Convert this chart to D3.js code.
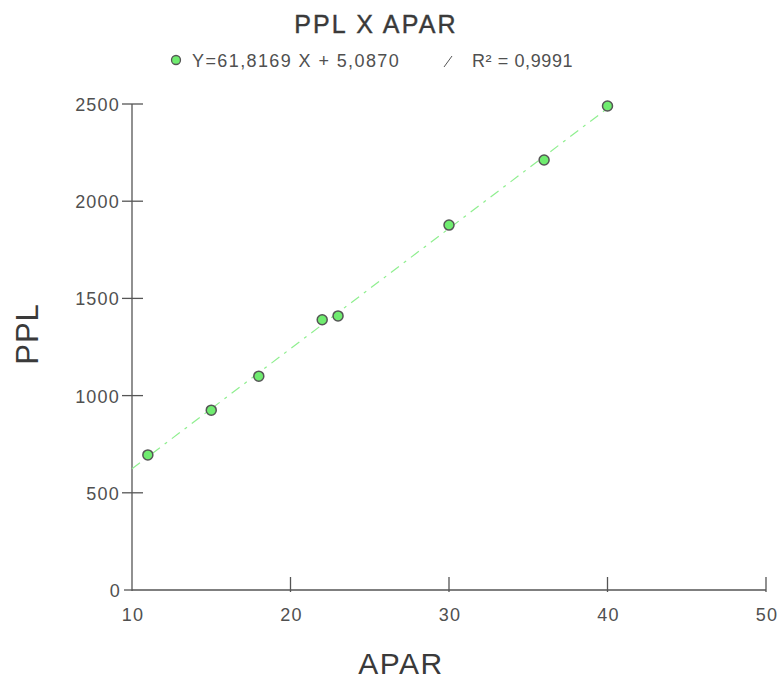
<!DOCTYPE html>
<html><head><meta charset="utf-8">
<script src="https://cdn.jsdelivr.net/npm/d3@7"></script>
<style>body{margin:0;background:#fff;} svg{display:block;font-family:"Liberation Sans",Arial,sans-serif;}</style>
</head><body>
<svg id="c" width="780" height="681"></svg>
<script>
const apar = [11, 15, 18, 22, 23, 30, 36, 40];
const ppl = [695, 925, 1100, 1390, 1410, 1877, 2212, 2490];
const slope = 61.8169, intercept = 5.0870;
const xTicks = [10, 20, 30, 40, 50];
const yTicks = [0, 500, 1000, 1500, 2000, 2500];
const title = "PPL X APAR";
const legendEq = "Y=61,8169 X + 5,0870";
const legendR2 = "R² = 0,9991";

const svg = d3.select("#c");
const x = d3.scaleLinear().domain([10, 50]).range([132, 766]);
const y = d3.scaleLinear().domain([0, 2500]).range([590, 104]);

// title
svg.append("text").attr("x", 376).attr("y", 33).attr("text-anchor", "middle")
  .attr("font-size", 25).attr("letter-spacing", 2.2).attr("fill", "#3a3a3a")
  .attr("stroke", "#3a3a3a").attr("stroke-width", 0.4).text(title);

// legend
svg.append("circle").attr("cx", 176).attr("cy", 60).attr("r", 4.5)
  .attr("fill", "#6fec6f").attr("stroke", "#555").attr("stroke-width", 1.3);
svg.append("text").attr("x", 192).attr("y", 67).attr("font-size", 18).attr("letter-spacing", 1.4)
  .attr("fill", "#505050").text(legendEq);
svg.append("line").attr("x1", 444).attr("y1", 67).attr("x2", 452).attr("y2", 56)
  .attr("stroke", "#555").attr("stroke-width", 1);
svg.append("text").attr("x", 472).attr("y", 67).attr("font-size", 18).attr("letter-spacing", 0.6)
  .attr("fill", "#505050").text(legendR2);

// axes
const g = svg.append("g");
g.append("line").attr("x1", x(10)).attr("x2", x(10)).attr("y1", y(2500)).attr("y2", y(0)+1)
  .attr("stroke", "#555").attr("stroke-width", 1.3);
g.append("line").attr("x1", x(10)).attr("x2", x(50)).attr("y1", y(0)).attr("y2", y(0))
  .attr("stroke", "#555").attr("stroke-width", 1.3);

yTicks.forEach(t => {
  g.append("line").attr("x1", x(10) - (t === 0 ? 8 : 10)).attr("x2", x(10) + (t === 0 ? 0 : 11))
    .attr("y1", y(t)).attr("y2", y(t))
    .attr("stroke", "#555").attr("stroke-width", 1.3);
  g.append("text").attr("x", x(10) - (t === 0 ? 11 : 12)).attr("y", y(t) + 7).attr("text-anchor", "end")
    .attr("font-size", 18).attr("letter-spacing", 1.2).attr("fill", "#505050").text(t);
});
xTicks.forEach(t => {
  if (t !== 10) {
    g.append("line").attr("x1", x(t)).attr("x2", x(t)).attr("y1", y(0) - 13).attr("y2", y(0) + 2)
      .attr("stroke", "#555").attr("stroke-width", 1.3);
  }
  g.append("text").attr("x", x(t) + 1).attr("y", y(0) + 31).attr("text-anchor", "middle")
    .attr("font-size", 18).attr("letter-spacing", 1.2).attr("fill", "#505050").text(t);
});

// axis labels
svg.append("text").attr("x", 401).attr("y", 674).attr("text-anchor", "middle")
  .attr("font-size", 30).attr("letter-spacing", 1.5).attr("fill", "#3a3a3a").text("APAR");
svg.append("text").attr("transform", "translate(38,334) rotate(-90)").attr("text-anchor", "middle")
  .attr("font-size", 31).attr("letter-spacing", 1).attr("fill", "#3a3a3a").text("PPL");

// regression line
const xs = [10, 40];
svg.append("line").attr("x1", x(xs[0])).attr("y1", y(slope * xs[0] + intercept))
  .attr("x2", x(xs[1])).attr("y2", y(slope * xs[1] + intercept))
  .attr("stroke", "#8fef8f").attr("stroke-width", 1.2).attr("stroke-dasharray", "10,6,3,6");

// points
svg.selectAll(".pt").data(apar.map((a, i) => [a, ppl[i]])).enter().append("circle")
  .attr("cx", d => x(d[0])).attr("cy", d => y(d[1])).attr("r", 5)
  .attr("fill", "#6fec6f").attr("stroke", "#555").attr("stroke-width", 1.5);
</script>
</body></html>
